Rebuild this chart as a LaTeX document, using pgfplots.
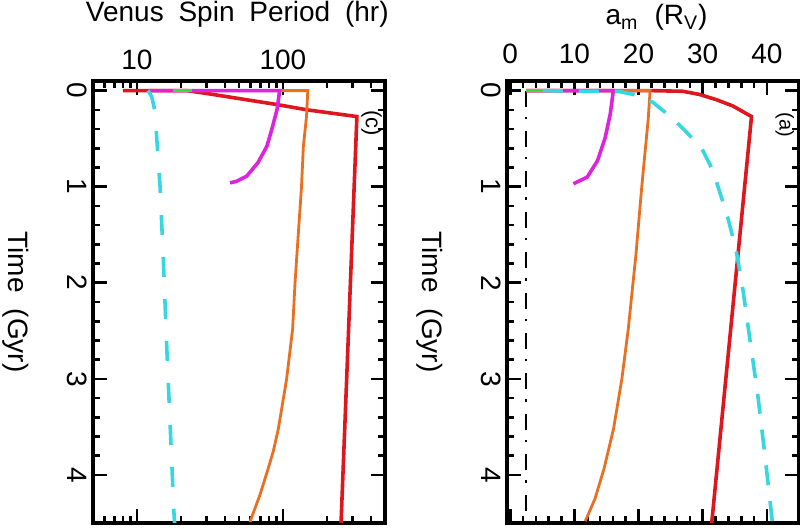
\documentclass[border=0pt]{standalone}
\usepackage{fontspec}
\setmainfont{Liberation Sans}
\usepackage{pgfplots}
\pgfplotsset{compat=1.18}
\definecolor{cRed}{RGB}{222,22,30}
\definecolor{cOrange}{RGB}{232,112,35}
\definecolor{cMag}{RGB}{222,35,222}
\definecolor{cCyan}{RGB}{55,215,225}
\definecolor{cGreen}{RGB}{55,222,55}
\pgfplotsset{
  panel/.style={
    anchor=south west, scale only axis, width=146pt, height=221pt,
    y dir=reverse, ymin=-0.1, ymax=4.5, ytick={0,1,2,3,4}, minor y tick num=4,
    tick align=inside, xticklabel pos=upper,
    axis line style={line width=1.9pt},
    tick style={black, line width=1.3pt},
    major tick length=7pt, minor tick length=3.5pt,
    ylabel={Time\hspace{0.3em} (Gyr)}, ylabel style={rotate=180},
    ylabel shift=11pt,
    yticklabel style={rotate=-90, anchor=north, inner ysep=3pt},
    /pgf/number format/assume math mode=true,
    font=\fontsize{14}{16}\selectfont,
    clip mode=individual,
  },
  thk/.style={line width=1.8pt},
}
\begin{document}
\fontsize{14}{16}\selectfont
\begin{tikzpicture}
\path[use as bounding box] (0,0) rectangle (400pt,264.5pt);
% ---------------- left panel ----------------
\begin{axis}[panel, at={(46.5pt,3pt)},
  xmode=log, xmin=5, xmax=500,
  xtick={10,100}, xticklabels={10,100},
  minor xtick={6,7,8,9,20,30,40,50,60,70,80,90,200,300,400},
  xticklabel style={yshift=0.7pt},
]
\addplot[cRed, thk] coordinates {(8,0)(22,0)(31.6,0.035)(91,0.145)(146,0.2)(321,0.27)(250,4.5)};
\addplot[cOrange, line width=1.4pt] coordinates {(12,0)(148,0)(145,0.27)(138,0.58)(134,1)(126,1.6)(121,2)(116.5,2.48)(106,3)(93,3.52)(86,3.75)(79,3.94)(69.5,4.21)(59.4,4.49)};
\addplot[cMag, thk] coordinates {(12,0)(95,0)(93,0.1)(91,0.2)(84,0.4)(77.6,0.58)(67.4,0.75)(56.5,0.89)(48,0.945)(43.4,0.96)};
\addplot[cCyan, thk, dash pattern=on 10pt off 11pt] coordinates {(11.9,0)(12.6,0.06)(13.1,0.17)(13.6,0.45)(14.4,1.0)(15.2,1.8)(16.0,2.67)(16.9,3.5)(17.9,4.38)(18.1,4.5)};
\addplot[cGreen, thk] coordinates {(17.7,0)(24,0)};
\node[rotate=-90, font=\fontsize{11}{13}\selectfont] at (axis cs:405,0.34) {(c)};
\node[anchor=base] at (axis cs:48.7,-0.722) {Venus\hspace{0.25em} Spin\hspace{0.25em} Period\hspace{0.25em} (hr)};
\end{axis}
% ---------------- right panel ----------------
\begin{axis}[panel, at={(253.5pt,3pt)},
  xmin=-0.5, xmax=45,
  xtick={0,10,20,30,40}, minor x tick num=4,
  xticklabel style={yshift=4pt},
]
\addplot[black, line width=1.1pt, dash pattern=on 8pt off 5pt on 1.2pt off 6pt] coordinates {(2.5,0)(2.5,4.5)};
\addplot[cRed, thk] coordinates {(2.5,0)(21.8,0)(26.9,0.007)(29.5,0.04)(32.1,0.094)(34.7,0.16)(37.6,0.27)(31.4,4.5)};
\addplot[cOrange, line width=1.4pt] coordinates {(2.5,0)(21.8,0)(21.5,0.3)(20.5,1)(19.6,1.7)(18.4,2.48)(17.4,3.0)(16.1,3.52)(14.6,3.94)(13.2,4.25)(11.7,4.48)};
\addplot[cMag, thk] coordinates {(2.5,0)(16.07,0)(15.6,0.24)(14.8,0.49)(13.6,0.73)(12.0,0.9)(9.85,0.97)};
\addplot[cCyan, thk, dash pattern=on 10pt off 8pt] coordinates {(5.1,0)(17,0.01)(19.2,0.04)(22.2,0.12)(24.4,0.24)(26.4,0.36)(28.3,0.49)(29.9,0.61)(31.2,0.78)(32.1,0.94)(33.1,1.15)(33.9,1.32)(34.7,1.53)(35.3,1.70)(35.8,1.89)(36.3,2.09)(36.7,2.28)(37.1,2.47)(38.6,3.18)(39.7,3.80)(40.8,4.46)(40.9,4.5)};
\addplot[cGreen, thk] coordinates {(2.5,0)(5.1,0)};
\node[rotate=-90, font=\fontsize{10}{12}\selectfont] at (axis cs:42.8,0.36) {(a)};
\node[anchor=base] at (axis cs:22.8,-0.686) {a\textsubscript{m}\hspace{0.3em} (R\textsubscript{V})};
\end{axis}
\end{tikzpicture}
\end{document}
